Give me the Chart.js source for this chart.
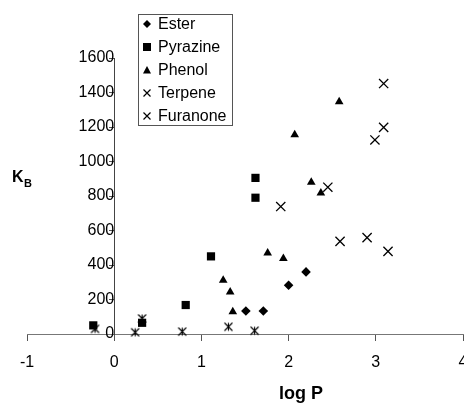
<!DOCTYPE html>
<html lang="en">
<head>
    <meta charset="UTF-8">
    <title>K_B vs log P</title>
    <script src="https://cdn.jsdelivr.net/npm/chart.js@4.4.0/dist/chart.umd.min.js"></script>
    <style>
        body {
            margin: 0;
            background: #fff;
        }
        .chart-container {
            position: relative;
            width: 464px;
            height: 408px;
        }
    </style>
</head>
<body>
    <div class="chart-container">
        <canvas id="kbChart"></canvas>
    </div>

    <script>
        // Data (x = log P, y = K_B)
        const esterX = [1.51, 1.71, 2.00, 2.20];
        const esterY = [133, 133, 283, 360];

        const pyrazineX = [-0.24, 0.32, 0.82, 1.11, 1.62, 1.62];
        const pyrazineY = [50, 65, 168, 450, 905, 790];

        const phenolX = [1.25, 1.33, 1.36, 1.76, 1.94, 2.07, 2.26, 2.37, 2.58];
        const phenolY = [312, 244, 129, 470, 437, 1155, 880, 818, 1346];

        const terpeneX = [1.91, 2.45, 2.59, 2.90, 2.99, 3.09, 3.09, 3.14];
        const terpeneY = [739, 851, 537, 559, 1125, 1452, 1198, 479];

        const furanoneX = [-0.22, 0.24, 0.32, 0.78, 1.31, 1.61];
        const furanoneY = [30, 10, 90, 14, 42, 19];

        const xTicks = [-1, 0, 1, 2, 3, 4];
        const yTicks = [0, 200, 400, 600, 800, 1000, 1200, 1400, 1600];

        const FONT = "'Liberation Sans', Arial, sans-serif";

        function toPoints(xs, ys) {
            return xs.map((x, i) => ({ x: x, y: ys[i] }));
        }

        // asterisk-like marker for Furanone (x with a short vertical stroke)
        function makeAsterisk(size) {
            const c = document.createElement('canvas');
            c.width = size;
            c.height = size;
            const g = c.getContext('2d');
            const h = size / 2;
            const r = h - 1.5;
            g.strokeStyle = '#000';
            g.lineWidth = 1.1;
            g.beginPath();
            g.moveTo(h - r, h - r); g.lineTo(h + r, h + r);
            g.moveTo(h + r, h - r); g.lineTo(h - r, h + r);
            g.moveTo(h, h - r); g.lineTo(h, h + r);
            g.stroke();
            return c;
        }
        const asterisk = makeAsterisk(11);

        // Legend box drawn on the canvas, top-left of the plot
        const legendItems = [
            { label: 'Ester', style: 'diamond' },
            { label: 'Pyrazine', style: 'square' },
            { label: 'Phenol', style: 'triangle' },
            { label: 'Terpene', style: 'cross' },
            { label: 'Furanone', style: 'cross' }
        ];

        function drawMarker(ctx, style, x, y) {
            ctx.save();
            ctx.fillStyle = '#000';
            ctx.strokeStyle = '#000';
            ctx.lineWidth = 1.2;
            ctx.beginPath();
            if (style === 'diamond') {
                ctx.moveTo(x, y - 4); ctx.lineTo(x + 4, y); ctx.lineTo(x, y + 4); ctx.lineTo(x - 4, y);
                ctx.closePath(); ctx.fill();
            } else if (style === 'square') {
                ctx.rect(x - 4, y - 4, 8, 8); ctx.fill();
            } else if (style === 'triangle') {
                ctx.moveTo(x, y - 4); ctx.lineTo(x + 4, y + 3.5); ctx.lineTo(x - 4, y + 3.5);
                ctx.closePath(); ctx.fill();
            } else {
                ctx.moveTo(x - 3.5, y - 3.5); ctx.lineTo(x + 3.5, y + 3.5);
                ctx.moveTo(x + 3.5, y - 3.5); ctx.lineTo(x - 3.5, y + 3.5);
                ctx.stroke();
            }
            ctx.restore();
        }

        const annotations = {
            id: 'annotations',
            afterDraw(chart) {
                const ctx = chart.ctx;
                ctx.save();
                // legend
                ctx.fillStyle = '#fff';
                ctx.fillRect(138.5, 14.5, 94, 111);
                ctx.strokeStyle = '#555';
                ctx.lineWidth = 1;
                ctx.strokeRect(138.5, 14.5, 94, 111);
                ctx.fillStyle = '#000';
                ctx.font = '16px ' + FONT;
                ctx.textBaseline = 'middle';
                ctx.textAlign = 'left';
                legendItems.forEach((item, i) => {
                    const y = 24 + i * 23;
                    drawMarker(ctx, item.style, 147, y);
                    ctx.fillText(item.label, 158, y + 1);
                });
                // axis titles
                ctx.font = 'bold 16px ' + FONT;
                ctx.fillText('K', 12, 178);
                ctx.font = 'bold 11px ' + FONT;
                ctx.fillText('B', 24, 184);
                ctx.font = 'bold 18px ' + FONT;
                ctx.textAlign = 'center';
                ctx.fillText('log P', 301, 394);
                ctx.restore();
            }
        };

        // end labels hang outside the plot, like the original
        function noSidePadding(axis) {
            axis.paddingLeft = 0;
            axis.paddingRight = 0;
        }

        const ctx = document.getElementById('kbChart').getContext('2d');
        new Chart(ctx, {
            type: 'scatter',
            data: {
                datasets: [{
                    label: 'Ester',
                    data: toPoints(esterX, esterY),
                    pointStyle: 'rectRot',
                    pointRadius: 4.8,
                    backgroundColor: '#000',
                    borderColor: '#000',
                    borderWidth: 0
                }, {
                    label: 'Pyrazine',
                    data: toPoints(pyrazineX, pyrazineY),
                    pointStyle: 'rect',
                    pointRadius: 5.8,
                    backgroundColor: '#000',
                    borderColor: '#000',
                    borderWidth: 0
                }, {
                    label: 'Phenol',
                    data: toPoints(phenolX, phenolY),
                    pointStyle: 'triangle',
                    pointRadius: 5,
                    backgroundColor: '#000',
                    borderColor: '#000',
                    borderWidth: 0
                }, {
                    label: 'Terpene',
                    data: toPoints(terpeneX, terpeneY),
                    pointStyle: 'crossRot',
                    pointRadius: 6.5,
                    backgroundColor: '#000',
                    borderColor: '#000',
                    borderWidth: 1.3
                }, {
                    label: 'Furanone',
                    data: toPoints(furanoneX, furanoneY),
                    pointStyle: asterisk,
                    pointRadius: 5,
                    backgroundColor: '#000',
                    borderColor: '#000',
                    borderWidth: 1
                }].map(d => Object.assign(d, { clip: false, pointHoverRadius: d.pointRadius }))
            },
            options: {
                responsive: true,
                maintainAspectRatio: false,
                animation: false,
                events: [],
                layout: {
                    autoPadding: false,
                    padding: { left: 27, right: 1, top: 58, bottom: 74 }
                },
                plugins: {
                    legend: { display: false },
                    tooltip: { enabled: false }
                },
                scales: {
                    x: {
                        type: 'linear',
                        min: xTicks[0],
                        max: xTicks[xTicks.length - 1],
                        position: { y: 0 },
                        afterBuildTicks: axis => { axis.ticks = xTicks.map(v => ({ value: v })); },
                        afterFit: noSidePadding,
                        ticks: {
                            color: '#000',
                            font: { family: FONT, size: 16 },
                            padding: 13,
                            maxRotation: 0,
                            callback: v => String(v)
                        },
                        grid: {
                            drawOnChartArea: false,
                            drawTicks: true,
                            tickLength: 6,
                            color: '#555'
                        },
                        border: { display: true, color: '#777', width: 1 }
                    },
                    y: {
                        type: 'linear',
                        min: yTicks[0],
                        max: yTicks[yTicks.length - 1],
                        position: { x: 0 },
                        afterBuildTicks: axis => { axis.ticks = yTicks.map(v => ({ value: v })); },
                        afterFit: noSidePadding,
                        ticks: {
                            color: '#000',
                            font: { family: FONT, size: 16 },
                            padding: 12,
                            callback: v => String(v)
                        },
                        grid: {
                            drawOnChartArea: false,
                            drawTicks: true,
                            tickLength: 5,
                            color: '#555'
                        },
                        border: { display: true, color: '#444', width: 1 }
                    }
                }
            },
            plugins: [annotations]
        });
    </script>
</body>
</html>
